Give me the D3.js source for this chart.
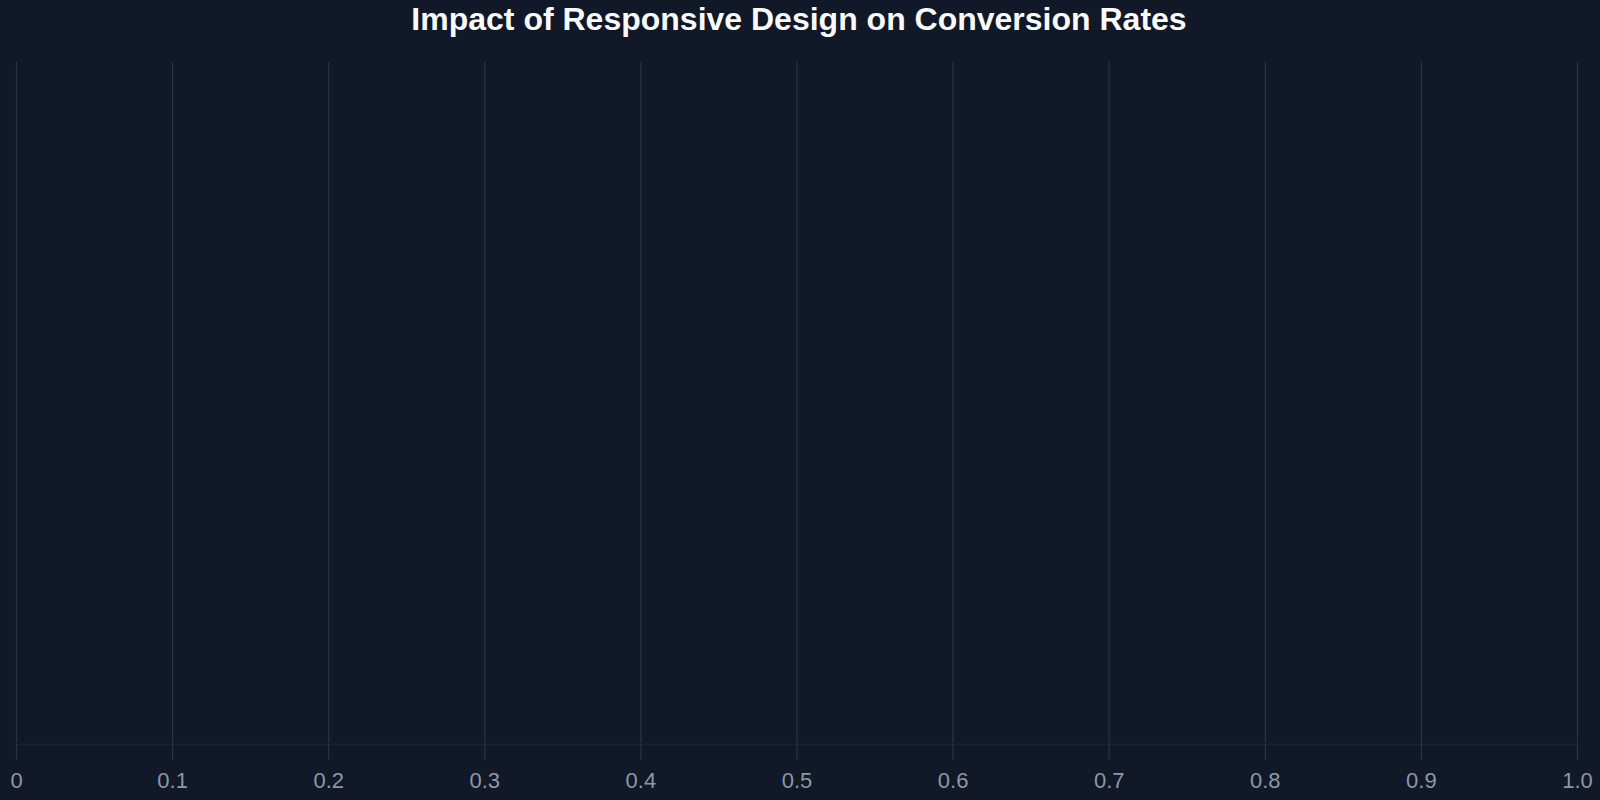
<!DOCTYPE html>
<html>
<head>
<meta charset="utf-8">
<script src="https://cdn.jsdelivr.net/npm/d3@7"></script>
<style>
  html, body { margin: 0; padding: 0; background: #111827; }
  svg { display: block; }
</style>
</head>
<body>
<div id="chart"></div>
<script>
// chart data (the reference shows no bars, only the empty frame)
const titleText = "Impact of Responsive Design on Conversion Rates";
const segments = [];
const conversionRates = [];
const xDomain = [0, 1];
const xTicks = [0, 0.1, 0.2, 0.3, 0.4, 0.5, 0.6, 0.7, 0.8, 0.9, 1.0];

const W = 1600, H = 800;
const margin = { top: 62, right: 23, bottom: 57, left: 16 };
const width = W - margin.left - margin.right;
const height = H - margin.top - margin.bottom;

const svg = d3.select("#chart").append("svg")
      .attr("width", W)
      .attr("height", H);

svg.append("rect")
      .attr("width", W)
      .attr("height", H)
      .attr("fill", "#111827");

svg.append("text")
      .attr("x", 799)
      .attr("y", 30)
      .attr("text-anchor", "middle")
      .attr("fill", "#f9fafb")
      .attr("font-family", "Liberation Sans, Arial, sans-serif")
      .attr("font-weight", "bold")
      .attr("font-size", 32)
      .text(titleText);

const g = svg.append("g")
      .attr("transform", "translate(" + margin.left + "," + margin.top + ")");

const xScale = d3.scaleLinear()
  .domain(xDomain)
  .range([0, width]);

const yScale = d3.scaleBand()
  .domain(segments)
  .range([0, height])
  .padding(0.3);

const fmt = d => d === 0 ? "0" : d3.format(".1f")(d);

// grid lines
g.append("g")
      .attr("class", "grid")
      .call(d3.axisBottom(xScale).tickValues(xTicks).tickSize(height).tickFormat(""))
      .call(a => a.select(".domain").remove())
      .call(a => a.selectAll("line").attr("stroke", "#2c3444").attr("stroke-width", 1.2));

// bars (none in this view)
g.append("g")
  .selectAll("rect")
  .data(conversionRates)
  .join("rect")
      .attr("x", 0)
      .attr("y", (d, i) => yScale(segments[i]))
      .attr("width", d => xScale(d))
      .attr("height", yScale.bandwidth())
      .attr("fill", "#3b82f6");

// x-axis
g.append("g")
      .attr("transform", "translate(0," + (height + 1) + ")")
      .call(d3.axisBottom(xScale).tickValues(xTicks).tickFormat(fmt).tickSizeInner(16).tickSizeOuter(0).tickPadding(12))
      .call(a => a.select(".domain").attr("stroke", "#1a2131").attr("stroke-width", 2))
      .call(a => a.selectAll(".tick line").attr("stroke", "#2c3444").attr("stroke-width", 1.2))
      .call(a => a.selectAll("text")
            .attr("fill", "#8f97a5")
            .attr("font-family", "Liberation Sans, Arial, sans-serif")
            .attr("font-size", 22));
</script>
</body>
</html>
